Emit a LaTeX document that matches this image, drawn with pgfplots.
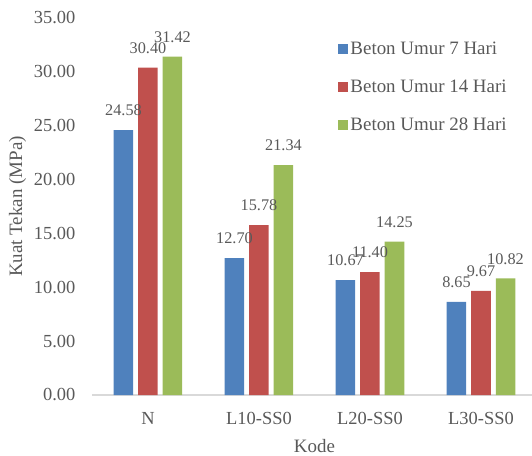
\documentclass[border=0pt]{standalone}
\usepackage{pgfplots}
\pgfplotsset{compat=1.18}
\usepackage{fontspec}
\setmainfont{Liberation Serif}
\definecolor{cblue}{HTML}{4F81BD}
\definecolor{cred}{HTML}{C0504D}
\definecolor{cgreen}{HTML}{9BBB59}
\definecolor{txt}{HTML}{595959}
\definecolor{axl}{HTML}{D9D9D9}
\begin{document}
\begin{tikzpicture}
\begin{axis}[
  scale only axis, width=444bp, height=377bp,
  xmin=-0.5, xmax=3.5, ymin=0, ymax=35,
  ybar=5bp, bar width=19.5bp,
  xtick={0,1,2,3}, xticklabels={N,L10-SS0,L20-SS0,L30-SS0},
  ytick={0,5,...,35},
  axis x line*=bottom, axis y line*=left,
  y axis line style={draw=none},
  x axis line style={draw=axl, line width=1.3bp, -},
  major tick length=0pt,
  /pgf/number format/assume math mode=true,
  yticklabel style={/pgf/number format/.cd, fixed, fixed zerofill, precision=2, /tikz/.cd,
    font=\fontsize{18.5}{22}\selectfont, text=txt, inner xsep=0pt, anchor=east, xshift=-17bp},
  xticklabel style={font=\fontsize{18.5}{22}\selectfont, text=txt, anchor=base, yshift=-29bp},
  xlabel={Kode}, ylabel={Kuat Tekan (MPa)},
  xlabel style={font=\fontsize{19}{22}\selectfont, text=txt, at={(axis description cs:0.5,0)}, anchor=center, yshift=-51bp},
  ylabel style={font=\fontsize{19}{22}\selectfont, text=txt, at={(axis description cs:-0.169,0.5)}, anchor=center},
  point meta=y,
  nodes near coords={\pgfmathprintnumber[fixed,fixed zerofill,precision=2,assume math mode=true]{\pgfplotspointmeta}},
  nodes near coords style={font=\fontsize{16.3}{18}\selectfont, text=txt, inner sep=0pt, anchor=south, yshift=14bp},
  legend image code/.code={\fill[#1] (0bp,-5bp) rectangle (10bp,5bp);},
  legend cell align=left,
  legend style={draw=none, fill=none, at={(axis description cs:0.554,0.937)}, anchor=north west,
    inner sep=0pt, outer sep=0pt, font=\fontsize{19}{22}\selectfont, text=txt,
    row sep=24bp, nodes={inner xsep=2bp, inner ysep=0pt}},
]
\addplot[fill=cblue, draw=none] coordinates {(0,24.58) (1,12.70) (2,10.67) (3,8.65)};
\addplot[fill=cred, draw=none] coordinates {(0,30.40) (1,15.78) (2,11.40) (3,9.67)};
\addplot[fill=cgreen, draw=none] coordinates {(0,31.42) (1,21.34) (2,14.25) (3,10.82)};
\legend{Beton Umur 7 Hari, Beton Umur 14 Hari, Beton Umur 28 Hari}
\end{axis}
\pgfresetboundingbox
\path[use as bounding box] (-92.5bp,-61bp) rectangle (439.5bp,395bp);
\end{tikzpicture}
\end{document}
